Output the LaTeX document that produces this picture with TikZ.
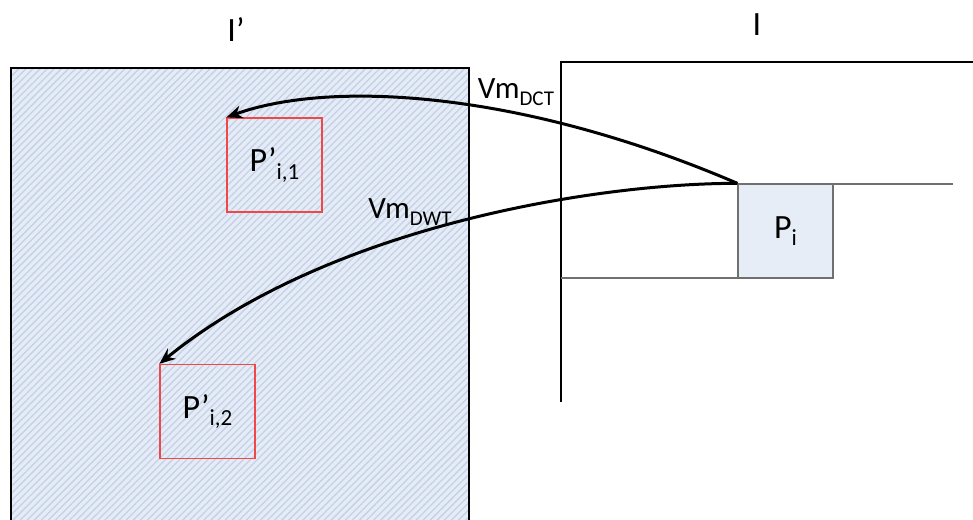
\documentclass[tikz,border=0pt]{standalone}
\usepackage{fontspec}
\setmainfont{Carlito}
\usetikzlibrary{patterns.meta,arrows.meta}
\definecolor{hatchbg}{HTML}{E6ECF6}
\definecolor{hatchln}{HTML}{C3D1E8}
\definecolor{pifill}{HTML}{E6EDF7}
\definecolor{boxred}{HTML}{F04848}
\definecolor{edgegray}{HTML}{707070}
\newcommand{\mysub}[2]{\raisebox{-0.22em}{\fontsize{#1}{#1}\selectfont #2}}
\begin{document}
\begin{tikzpicture}[x=1pt,y=-1pt,
  lbl/.style={font=\fontsize{34}{36}\selectfont, inner sep=0pt},
  vmlbl/.style={font=\fontsize{31}{34}\selectfont, inner sep=0pt},
  redbox/.style={draw=boxred, line width=1.3pt, minimum width=95pt, minimum height=94pt, inner sep=0pt, font=\fontsize{34}{36}\selectfont},
  pibox/.style={draw=edgegray, fill=pifill, line width=1.3pt, minimum width=95pt, minimum height=94pt, inner sep=0pt, font=\fontsize{34}{36}\selectfont},
  frame/.style={line width=1.2pt, black},
  grayline/.style={line width=1.3pt, edgegray},
  mv/.style={line width=3pt, -{Stealth[length=16pt,width=13pt]}}]
\useasboundingbox (0,0) rectangle (973,519);
% left image I'
\path[fill=hatchbg] (11,68) rectangle (469,525);
\path[pattern={Lines[angle=45,distance=5pt,line width=1.3pt]}, pattern color=hatchln] (11,68) rectangle (469,525);
\draw[line width=1.5pt] (11,525) -- (11,68) -- (469,68) -- (469,525);
% right image I
\draw[frame] (561,402) -- (561,62) -- (973,62);
\draw[grayline] (561,278) -- (738,278);
\draw[grayline] (833,184) -- (953,184);
% blocks
\node[pibox] (pi) at (785.5,231) {P\mysub{23}{i}};
\node[redbox] (p1) at (274.5,165) {P’\mysub{23}{i,1}};
\node[redbox] (p2) at (207.5,411.5) {P’\mysub{23}{i,2}};
% labels
\node[lbl] (lIp) at (236,30) {I’};
\node[lbl] (lI) at (757,25) {I};
\node[vmlbl] (ldct) at (516,92) {Vm\mysub{21}{DCT}};
\node[vmlbl] (ldwt) at (410,212) {Vm\mysub{21}{DWT}};
% motion vectors
\draw[mv] (pi.north west) .. controls (520,90) and (330,80) .. (p1.north west);
\draw[mv] (pi.north west) .. controls (600,183) and (330,225) .. (p2.north west);
\end{tikzpicture}
\end{document}
